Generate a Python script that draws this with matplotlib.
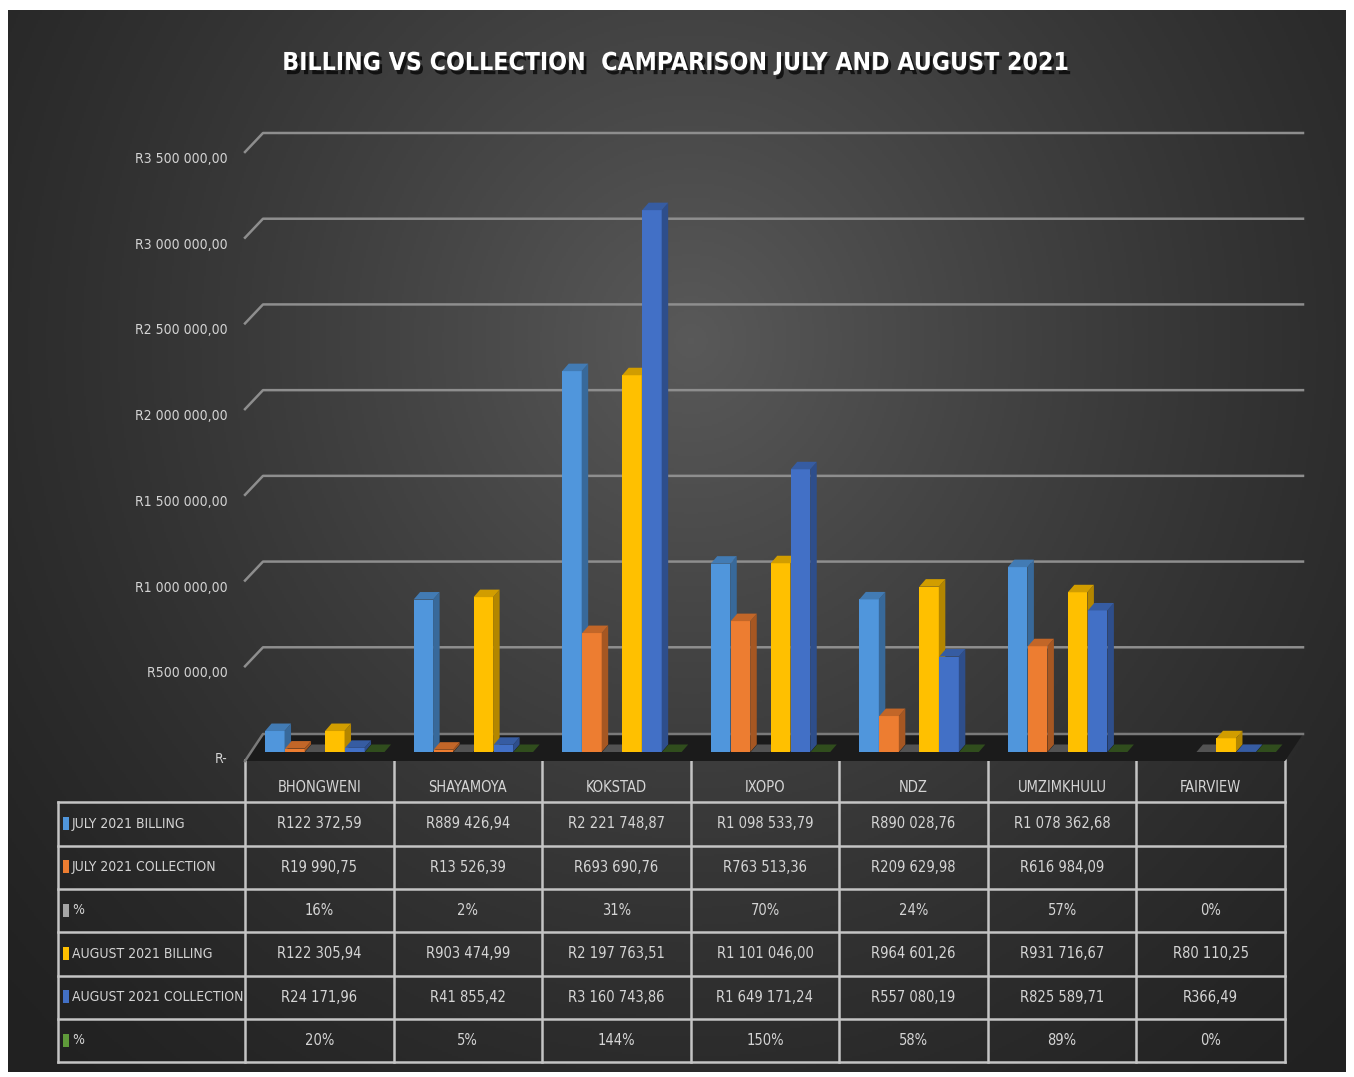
import numpy as np
import matplotlib.pyplot as plt
import matplotlib.patheffects as pe
from matplotlib.patches import Polygon, Rectangle
from matplotlib.transforms import offset_copy
from matplotlib.colors import to_rgb

# DejaVu Sans Condensed stands in for the squeezed Calibri of the original
plt.rcParams['font.family'] = ['DejaVu Sans']
plt.rcParams['font.stretch'] = 'condensed'

# ---- data ----
sites = ['BHONGWENI', 'SHAYAMOYA', 'KOKSTAD', 'IXOPO', 'NDZ', 'UMZIMKHULU', 'FAIRVIEW']
july_billing = [122372.59, 889426.94, 2221748.87, 1098533.79, 890028.76, 1078362.68, np.nan]
july_collection = [19990.75, 13526.39, 693690.76, 763513.36, 209629.98, 616984.09, np.nan]
july_pct = [16, 2, 31, 70, 24, 57, 0]
aug_billing = [122305.94, 903474.99, 2197763.51, 1101046.00, 964601.26, 931716.67, 80110.25]
aug_collection = [24171.96, 41855.42, 3160743.86, 1649171.24, 557080.19, 825589.71, 366.49]
aug_pct = [20, 5, 144, 150, 58, 89, 0]

series_names = ['JULY 2021 BILLING', 'JULY 2021 COLLECTION', '%',
                'AUGUST 2021 BILLING', 'AUGUST 2021 COLLECTION', '%']
series_colors = ['#5096dc', '#ed7d31', '#a5a5a5', '#ffc000', '#4270c6', '#5f9a3a']
ytick_vals = [0, 500000, 1000000, 1500000, 2000000, 2500000, 3000000, 3500000]
ytick_labels = ['R-', 'R500 000,00', 'R1 000 000,00', 'R1 500 000,00', 'R2 000 000,00',
                'R2 500 000,00', 'R3 000 000,00', 'R3 500 000,00']
title = 'BILLING VS COLLECTION  CAMPARISON JULY AND AUGUST 2021'


def rand(v):
    if np.isnan(v):
        return ''
    return 'R' + f'{v:,.2f}'.replace(',', ' ').replace('.', ',')


# % rows are plotted as fractions, so they sit flat on the floor
series_vals = [july_billing, july_collection, [p / 100 for p in july_pct],
               aug_billing, aug_collection, [p / 100 for p in aug_pct]]
series_text = [[rand(v) for v in july_billing], [rand(v) for v in july_collection],
               [f'{p}%' for p in july_pct], [rand(v) for v in aug_billing],
               [rand(v) for v in aug_collection], [f'{p}%' for p in aug_pct]]

W, H = 1354, 1077
fig = plt.figure(figsize=(W / 100, H / 100), dpi=100, facecolor='white')

# background with soft radial light
bg = fig.add_axes([0, 0, 1, 1])
bg.set_xlim(0, W)
bg.set_ylim(H, 0)
bg.axis('off')
yy, xx = np.mgrid[10:1072:2, 8:1346:2]
r = np.sqrt(((xx - 690) / 1.0) ** 2 + ((yy - 340) / 1.05) ** 2)
t = np.clip(1 - r / 950, 0, 1) ** 1.3
shade = 0.13 + 0.22 * t
bg.imshow(np.dstack([shade] * 3), extent=(8, 1346, 1072, 10), aspect='auto', zorder=0)

bg.text(676, 63, title, ha='center', va='center', fontsize=17.8, weight='bold', color='white',
        path_effects=[pe.withSimplePatchShadow(offset=(2, -3), shadow_rgbFace='black', alpha=0.7)])

# ---- 3D-looking column chart ----
ax = fig.add_axes([245 / W, (H - 752) / H, 1040 / W, 600 / H])
ax.set_xlim(-0.5, 6.5)
ax.set_ylim(0, 3.5e6)
ax.axis('off')
ax.patch.set_alpha(0)

pxx = 1040 / 7
pxy = 600 / 3.5e6
dx = lambda p: p / pxx
dy = lambda p: p / pxy

# gridlines on back wall with diagonal on side wall
for v in ytick_vals[1:]:
    ax.plot([-0.5, -0.5 + dx(18), 6.5 + dx(18)], [v, v + dy(19), v + dy(19)],
            color='#8e8e8e', lw=1.8, clip_on=False, zorder=1)

# floor
floor = Polygon([(-0.5, -dy(9)), (6.5, -dy(9)), (6.5 + dx(18), dy(18)), (-0.5 + dx(18), dy(18))],
                closed=True, facecolor='#1b1b1b', edgecolor='none', clip_on=False, zorder=2)
ax.add_patch(floor)
ax.plot([-0.5, -0.5 + dx(18), 6.5 + dx(18)], [-dy(9), dy(18), dy(18)],
        color='#7a7a7a', lw=1.8, clip_on=False, zorder=2)

for v, lab in zip(ytick_vals, ytick_labels):
    ax.text(-0.5, v, lab, transform=offset_copy(ax.transData, fig=fig, x=-17, y=-7, units='dots'),
            ha='right', va='center', fontsize=10, color='#d4d4d4')

spacing = dx(20)
shift = dx(5.5)
w = dx(19.5)
ddx, ddy = dx(6.5), dy(7.5)
z = 3
for i in range(len(sites)):
    for k, vals in enumerate(series_vals):
        h = vals[i]
        if np.isnan(h):
            continue
        c = np.array(to_rgb(series_colors[k]))
        top = 0.5 if h < 10 else 0.82
        left = i + (k - 2.5) * spacing + shift - w / 2
        ax.add_patch(Rectangle((left, 0), w, h, facecolor=c, edgecolor='none', clip_on=False, zorder=z))
        ax.add_patch(Polygon([(left + w, 0), (left + w + ddx, ddy), (left + w + ddx, h + ddy), (left + w, h)],
                             facecolor=c * 0.7, edgecolor='none', clip_on=False, zorder=z))
        ax.add_patch(Polygon([(left, h), (left + w, h), (left + w + ddx, h + ddy), (left + ddx, h + ddy)],
                             facecolor=c * top, edgecolor='none', clip_on=False, zorder=z))
        z += 1

# ---- data table ----
col_edges = [245 + 1040 / 7 * i for i in range(8)]
row_edges = [802, 845.5, 889, 932, 975.5, 1019, 1062]
lc, lw = '#c4c4c4', 1.8
for x in col_edges:
    bg.plot([x, x], [760, row_edges[-1]], color=lc, lw=lw, zorder=3)
bg.plot([58, 58], [row_edges[0], row_edges[-1]], color=lc, lw=lw, zorder=3)
for y in row_edges:
    bg.plot([58, col_edges[-1]], [y, y], color=lc, lw=lw, zorder=3)

for j, s in enumerate(sites):
    cx = (col_edges[j] + col_edges[j + 1]) / 2
    bg.text(cx, 787, s, ha='center', va='center', fontsize=10.5, color='#d4d4d4')

for k, name in enumerate(series_names):
    cy = (row_edges[k] + row_edges[k + 1]) / 2
    bg.add_patch(Rectangle((63, cy - 7), 6, 13, facecolor=series_colors[k], edgecolor='none', zorder=4))
    bg.text(72, cy, name, ha='left', va='center', fontsize=10, color='#d4d4d4')
    for j in range(len(sites)):
        cx = (col_edges[j] + col_edges[j + 1]) / 2
        bg.text(cx, cy, series_text[k][j], ha='center', va='center', fontsize=10.5, color='#d4d4d4')

fig.savefig('out.png', dpi=100, facecolor='white')
